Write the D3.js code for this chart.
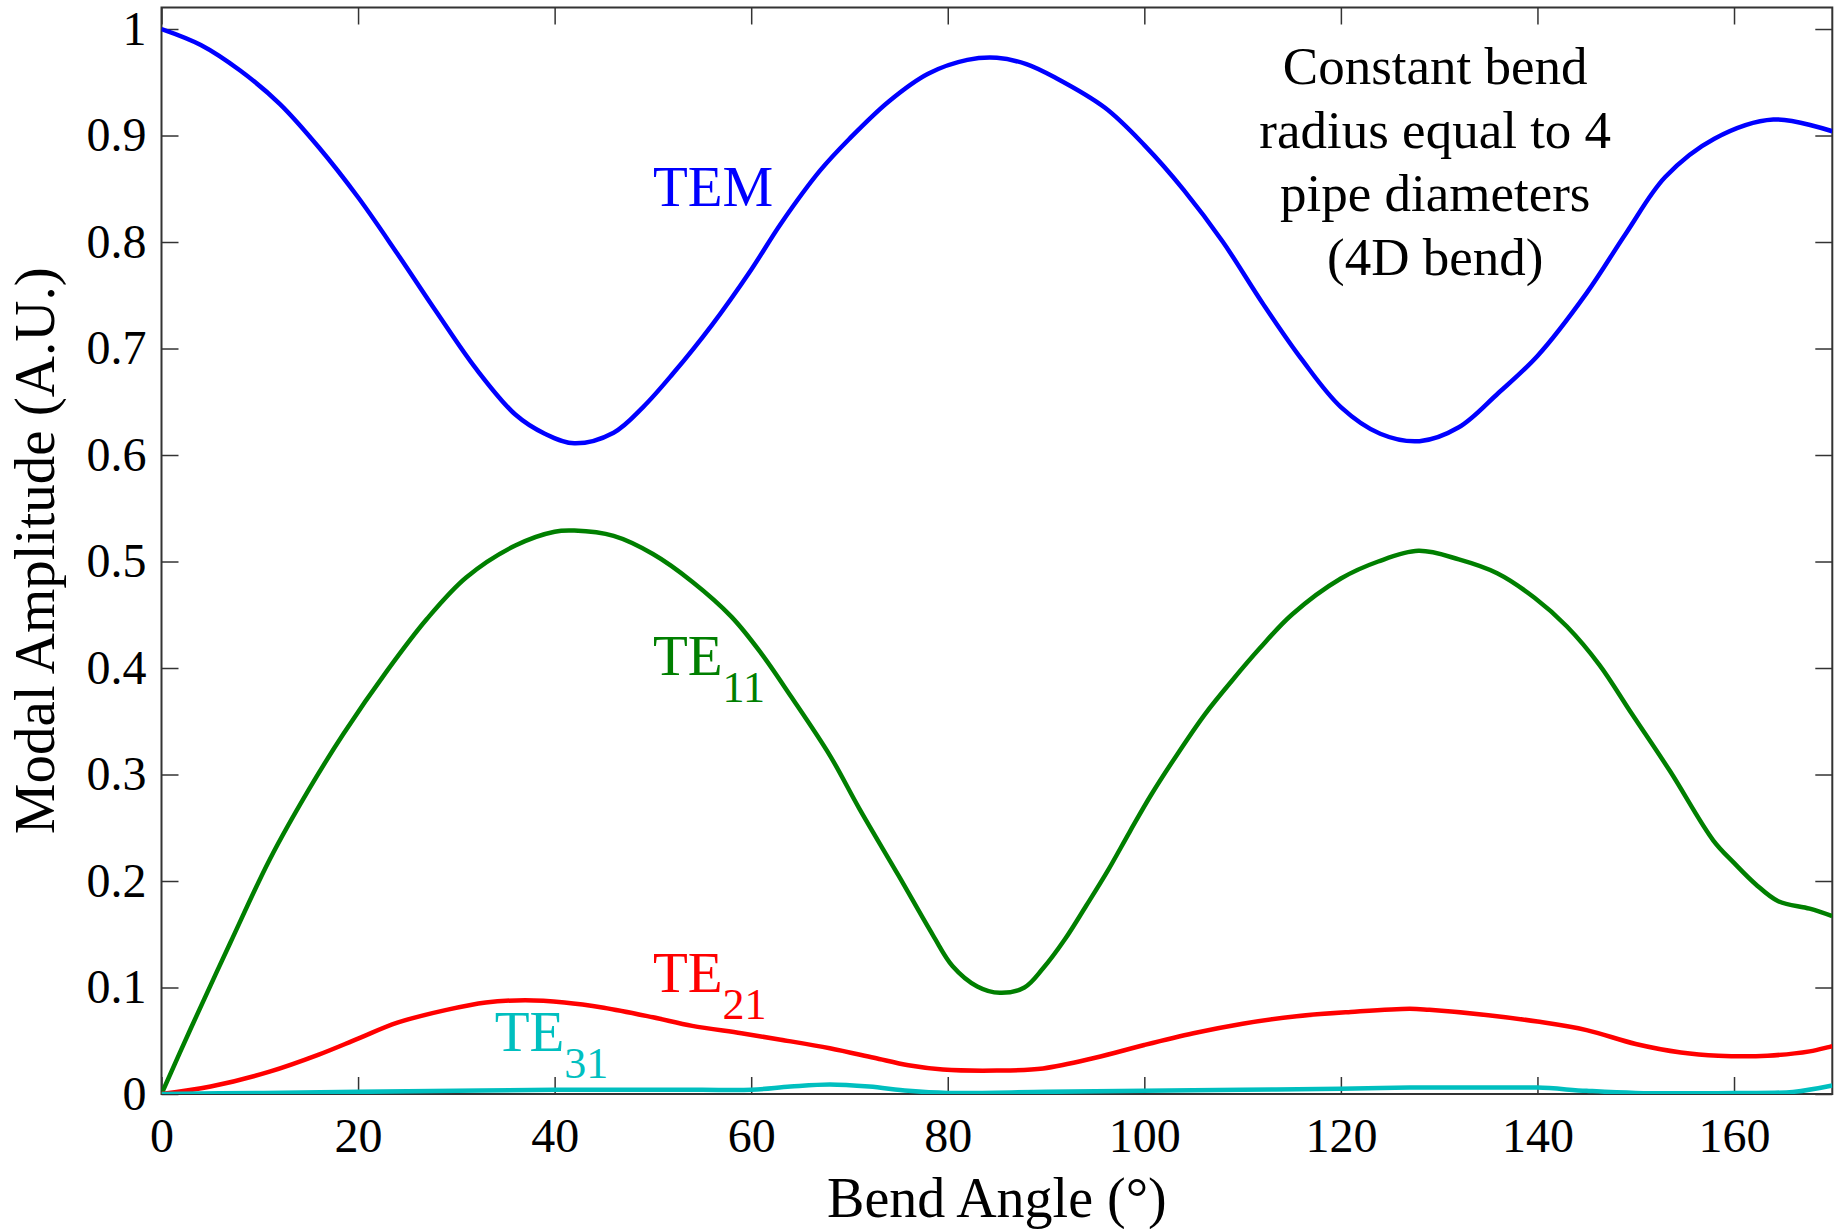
<!DOCTYPE html>
<html>
<head>
<meta charset="utf-8">
<script src="https://cdn.jsdelivr.net/npm/d3@7"></script>
<style>
  body { margin: 0; background: #fff; }
  svg text { font-family: "Liberation Serif", "Times New Roman", serif; }
</style>
</head>
<body>
<div id="chartDiv"></div>
<script>
// Modal amplitudes along a 4D bend

// x ticks / y ticks
var xTicks = [0, 20, 40, 60, 80, 100, 120, 140, 160];
var yTicks = [0, 0.1, 0.2, 0.3, 0.4, 0.5, 0.6, 0.7, 0.8, 0.9, 1];

// TEM
var temAngle = [0, 4, 8, 12, 16, 20, 24, 28, 32, 36, 39, 42, 46, 49, 52, 56, 60, 63, 67, 70, 74, 78, 82, 85, 88, 91, 96, 100, 104, 108, 112, 116, 120, 124, 128, 132, 136, 140, 145, 149, 153, 158, 164, 170];
var temValue = [1.000, 0.985, 0.961, 0.930, 0.889, 0.842, 0.789, 0.734, 0.681, 0.638, 0.620, 0.611, 0.621, 0.645, 0.676, 0.722, 0.774, 0.817, 0.867, 0.897, 0.932, 0.958, 0.971, 0.973, 0.967, 0.954, 0.926, 0.891, 0.849, 0.800, 0.743, 0.690, 0.645, 0.620, 0.613, 0.626, 0.658, 0.693, 0.752, 0.808, 0.861, 0.897, 0.915, 0.904];

// TE11
var te11Angle = [0, 3, 7, 11, 15, 18.5, 23, 27, 31, 36, 40, 42, 46, 50, 54, 58, 61, 64, 68, 71, 75, 78.5, 80.5, 83, 85.3, 87.8, 89.7, 91.9, 94.1, 96.3, 98.5, 100.7, 103.5, 106.2, 109, 111.7, 115, 120, 123.8, 127.9, 132, 135.9, 139.7, 143, 146.3, 149.6, 153.5, 157.9, 160, 162.2, 164.5, 167.7, 170];
var te11Value = [0, 0.062, 0.142, 0.220, 0.286, 0.338, 0.398, 0.446, 0.485, 0.515, 0.528, 0.529, 0.524, 0.507, 0.481, 0.448, 0.414, 0.374, 0.318, 0.268, 0.205, 0.149, 0.120, 0.101, 0.095, 0.100, 0.118, 0.145, 0.177, 0.210, 0.246, 0.281, 0.321, 0.357, 0.389, 0.418, 0.450, 0.484, 0.500, 0.510, 0.502, 0.489, 0.466, 0.439, 0.403, 0.357, 0.303, 0.238, 0.217, 0.197, 0.181, 0.174, 0.167];

// TE21
var te21Angle = [0, 5, 11, 16, 20, 24, 29, 33, 37, 41, 45, 50, 54, 59, 63, 68, 72.5, 76, 79.5, 85, 89.7, 95, 100, 105, 110, 115.5, 121, 127, 129, 135, 140, 145, 150, 154.6, 158.4, 163.4, 167.7, 170];
var te21Value = [0, 0.007, 0.021, 0.037, 0.052, 0.067, 0.079, 0.086, 0.088, 0.086, 0.081, 0.072, 0.064, 0.057, 0.051, 0.043, 0.034, 0.027, 0.023, 0.022, 0.024, 0.034, 0.046, 0.057, 0.066, 0.073, 0.077, 0.080, 0.079, 0.074, 0.068, 0.060, 0.047, 0.039, 0.036, 0.036, 0.040, 0.045];

// TE31
var te31Angle = [0, 10, 20, 30, 40, 50, 55, 60, 64, 68, 72, 76, 80, 90, 100, 110, 120, 127, 135, 140, 145, 150, 160, 166, 170];
var te31Value = [0, 0.001, 0.002, 0.003, 0.004, 0.004, 0.004, 0.004, 0.007, 0.009, 0.007, 0.003, 0.001, 0.002, 0.003, 0.004, 0.005, 0.006, 0.006, 0.006, 0.003, 0.001, 0.001, 0.002, 0.008];

var series = [
    { name: "TEM", angle: temAngle, value: temValue, color: "#0000ff" },
    { name: "TE11", angle: te11Angle, value: te11Value, color: "#007f00" },
    { name: "TE21", angle: te21Angle, value: te21Value, color: "#ff0000" },
    { name: "TE31", angle: te31Angle, value: te31Value, color: "#00bfbf" }
];

function buildChart() {
    var width = 1845;
    var height = 1229;
    var left = 161.5, top = 7.5, right = 1832.3, bottom = 1094;

    var xScale = d3.scaleLinear().domain([0, 170]).range([left, right]);
    var yScale = d3.scaleLinear().domain([0, 1.0202]).range([bottom, top]);

    var svg = d3.select("#chartDiv")
                .append("svg")
                .attr("width", width)
                .attr("height", height);

    var fmt = function(d) { return String(+d.toFixed(1)); };

    // axes, ticks inside on all sides
    svg.append("g")
       .attr("transform", "translate(0," + bottom + ")")
       .call(d3.axisBottom(xScale).tickValues(xTicks).tickFormat(fmt).tickSizeInner(-17).tickSizeOuter(0).tickPadding(24));
    svg.append("g")
       .attr("transform", "translate(0," + top + ")")
       .call(d3.axisTop(xScale).tickValues(xTicks).tickFormat("").tickSizeInner(-17).tickSizeOuter(0));
    svg.append("g")
       .attr("transform", "translate(" + left + ",0)")
       .call(d3.axisLeft(yScale).tickValues(yTicks).tickFormat(fmt).tickSizeInner(-17).tickSizeOuter(0).tickPadding(15));
    svg.append("g")
       .attr("transform", "translate(" + right + ",0)")
       .call(d3.axisRight(yScale).tickValues(yTicks).tickFormat("").tickSizeInner(-17).tickSizeOuter(0));

    svg.selectAll(".domain").remove();
    svg.selectAll(".tick line").attr("stroke", "#333").attr("stroke-width", 1.5);
    svg.selectAll(".tick text").attr("font-size", "48px").attr("fill", "#000")
       .attr("font-family", "Liberation Serif, Times New Roman, serif");

    // box
    svg.append("rect")
       .attr("x", left).attr("y", top)
       .attr("width", right - left).attr("height", bottom - top)
       .attr("fill", "none").attr("stroke", "#333").attr("stroke-width", 2);

    // clip
    svg.append("clipPath").attr("id", "plotClip")
       .append("rect")
       .attr("x", left).attr("y", top)
       .attr("width", right - left).attr("height", bottom - top);

    var line = d3.line()
                 .x(function(d) { return xScale(d[0]); })
                 .y(function(d) { return yScale(d[1]); })
                 .curve(d3.curveCatmullRom.alpha(0.5));

    svg.append("g").attr("clip-path", "url(#plotClip)")
       .selectAll("path")
       .data(series)
       .enter()
       .append("path")
       .attr("d", function(s) { return line(s.angle.map(function(a, i) { return [a, s.value[i]]; })); })
       .attr("fill", "none")
       .attr("stroke", function(s) { return s.color; })
       .attr("stroke-width", 4.5)
       .attr("stroke-linejoin", "round");

    // curve labels
    function label(main, sub, color, ax, av) {
        var t = svg.append("text")
                   .attr("x", xScale(ax)).attr("y", yScale(av))
                   .attr("fill", color).attr("font-size", "57px")
                   .text(main);
        if (sub) {
            t.append("tspan").attr("dy", 27).attr("font-size", "44px").text(sub);
        }
    }
    label("TEM", null, "#0000ff", 50, 0.834);
    label("TE", "11", "#007f00", 50, 0.393);
    label("TE", "21", "#ff0000", 50, 0.0958);
    label("TE", "31", "#00bfbf", 33.9, 0.040);

    // annotation
    var note = svg.append("text")
                  .attr("text-anchor", "middle")
                  .attr("font-size", "53px")
                  .attr("fill", "#000");
    ["Constant bend", "radius equal to 4", "pipe diameters", "(4D bend)"].forEach(function(s, i) {
        note.append("tspan")
            .attr("x", xScale(129.6))
            .attr("y", yScale(0.948) + i * 63.5)
            .text(s);
    });

    // axis labels
    svg.append("text")
       .attr("x", (left + right) / 2).attr("y", 1217)
       .attr("text-anchor", "middle").attr("font-size", "56px")
       .text("Bend Angle (°)");
    svg.append("text")
       .attr("transform", "translate(54," + ((top + bottom) / 2) + ") rotate(-90)")
       .attr("text-anchor", "middle").attr("font-size", "57px")
       .text("Modal Amplitude (A.U.)");
}
buildChart();
</script>
</body>
</html>
